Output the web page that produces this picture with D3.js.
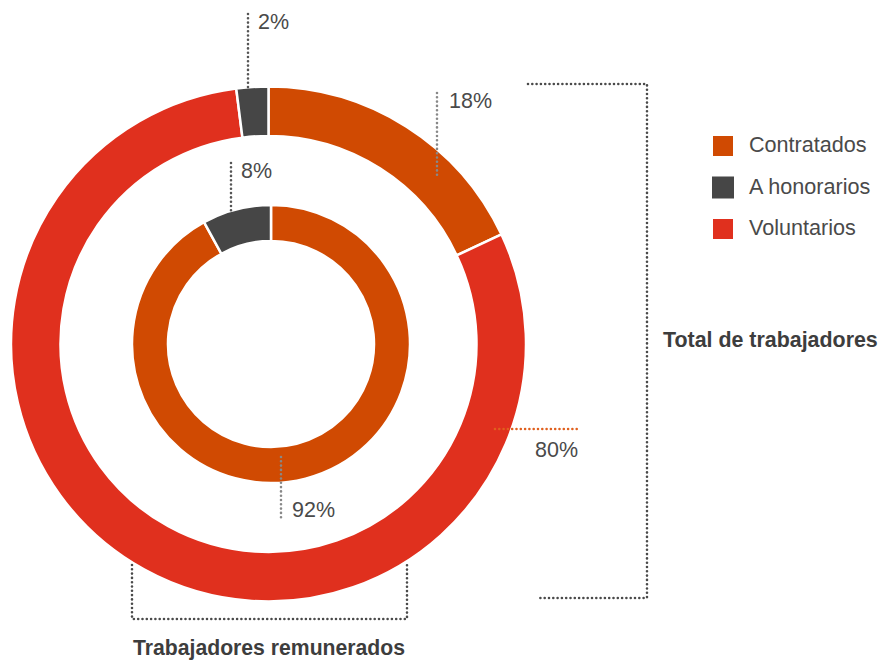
<!DOCTYPE html>
<html>
<head>
<meta charset="utf-8">
<script src="https://cdn.jsdelivr.net/npm/d3@7"></script>
<style>
  body { margin: 0; background: #fff; }
  text { font-family: "Liberation Sans", Arial, Helvetica, sans-serif; }
</style>
</head>
<body>
<div id="chart"></div>
<script>
// categories and values
var categories = ["Contratados", "A honorarios", "Voluntarios"];
var colors = ["#D04A02", "#464646", "#E0301E"];
// outer ring: total de trabajadores (%)
var totalValues = [18, 2, 80];
// inner ring: trabajadores remunerados (%)
var remuneradosValues = [92, 8, 0];
// order the slices go round the ring, clockwise from 12 o'clock
var ringOrder = ["Contratados", "Voluntarios", "A honorarios"];

var width = 881, height = 660;

var svg = d3.select("#chart")
  .append("svg")
    .attr("width", width)
    .attr("height", height);

var color = d3.scaleOrdinal().domain(categories).range(colors);

var pie = d3.pie()
  .sort(null)
  .value(function(d) { return d.value; });

function ringData(values) {
  return ringOrder.map(function(c) {
    return { cat: c, value: values[categories.indexOf(c)] };
  }).filter(function(d) { return d.value > 0; });
}

// outer ring
var outer = svg.append("g").attr("transform", "translate(268.5,344)");
outer.selectAll("path")
  .data(pie(ringData(totalValues)))
  .enter().append("path")
    .attr("d", d3.arc().innerRadius(208).outerRadius(257.5))
    .attr("fill", function(d) { return color(d.data.cat); })
    .attr("stroke", "#fff")
    .attr("stroke-width", 2.5);

// inner ring
var inner = svg.append("g").attr("transform", "translate(271,344)");
inner.selectAll("path")
  .data(pie(ringData(remuneradosValues)))
  .enter().append("path")
    .attr("d", d3.arc().innerRadius(103).outerRadius(139))
    .attr("fill", function(d) { return color(d.data.cat); })
    .attr("stroke", "#fff")
    .attr("stroke-width", 2.5);

// dotted helper
function dotted(g, d, col) {
  return g.append("path")
    .attr("d", d)
    .attr("fill", "none")
    .attr("stroke", col)
    .attr("stroke-width", 2.6)
    .attr("stroke-linecap", "round")
    .attr("stroke-dasharray", "0,4.3");
}

var ann = svg.append("g");

// value labels with leader lines
var labels = [
  { text: totalValues[1] + "%", line: "M248,14V88", lc: "#555", x: 258, y: 29 },
  { text: totalValues[0] + "%", line: "M437,93V175", lc: "#888", x: 449, y: 108 },
  { text: remuneradosValues[1] + "%", line: "M231,163V211", lc: "#555", x: 241, y: 178 },
  { text: remuneradosValues[0] + "%", line: "M281,457V520", lc: "#888", x: 292, y: 517 },
  { text: totalValues[2] + "%", line: "M495,429H579", lc: "#E0601E", x: 535, y: 457 }
];
labels.forEach(function(l) {
  dotted(ann, l.line, l.lc);
  ann.append("text")
    .attr("x", l.x).attr("y", l.y)
    .attr("font-size", 21.5)
    .attr("fill", "#4a4a4a")
    .text(l.text);
});

// brackets
dotted(ann, "M528,84H647V598H538", "#4a4a4a");
dotted(ann, "M132,565V619H407V565", "#4a4a4a");

ann.append("text")
  .attr("x", 663).attr("y", 347)
  .attr("font-size", 21.4)
  .attr("font-weight", "bold")
  .attr("fill", "#3d3d3d")
  .text("Total de trabajadores");

ann.append("text")
  .attr("x", 133).attr("y", 655)
  .attr("font-size", 21.2)
  .attr("font-weight", "bold")
  .attr("fill", "#3d3d3d")
  .text("Trabajadores remunerados");

// legend
var legend = svg.append("g").attr("transform", "translate(713,136)");
var item = legend.selectAll("g")
  .data(categories)
  .enter().append("g")
    .attr("transform", function(d, i) { return "translate(0," + (i * 41.5) + ")"; });
item.append("rect")
  .attr("x", function(d) { return d === "A honorarios" ? -1 : 0; })
  .attr("y", function(d) { return d === "A honorarios" ? -1 : 0; })
  .attr("width", function(d) { return d === "A honorarios" ? 22 : 20; })
  .attr("height", function(d) { return d === "A honorarios" ? 22 : 20; })
  .attr("fill", function(d) { return color(d); });
item.append("text")
  .attr("x", 36)
  .attr("y", 16)
  .attr("font-size", 21.6)
  .attr("fill", "#4a4a4a")
  .text(function(d) { return d; });
</script>
</body>
</html>
